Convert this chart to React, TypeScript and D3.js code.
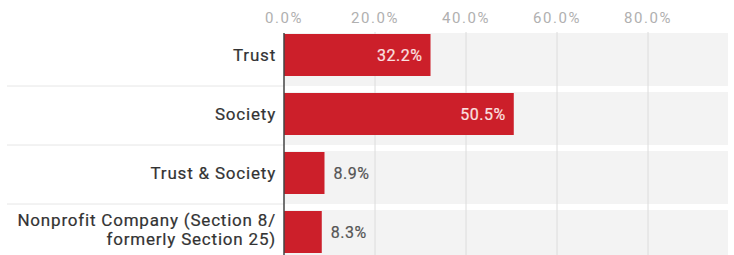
import React from 'react';
import * as d3 from 'd3';

const categories = ['Trust', 'Society', 'Trust & Society', 'Nonprofit Company (Section 8/\nformerly Section 25)'];
const values = [32.2, 50.5, 8.9, 8.3];
const ticks = [0, 20, 40, 60, 80];

const W = 734;
const H = 255;

const App = () => {
  const x = d3.scaleLinear().domain([0, 100]).range([284, 739]);
  const y = d3.scaleBand().domain(categories).range([30, 266]);
  const step = y.step();
  const plotRight = 728;
  const font = 'Roboto, sans-serif';

  return (
    <svg width={W} height={H} style={{ position: 'absolute', left: 0, top: 0, background: '#fff' }}>
      {/* row backgrounds */}
      {categories.map(c => (
        <rect key={'bg' + c} x={x(0)} y={(y(c) as number) + 3} width={plotRight - x(0)} height={step - 6} fill="#f3f3f3" />
      ))}
      {/* gridlines */}
      {ticks.slice(1).map(t => (
        <line key={'g' + t} x1={x(t)} x2={x(t)} y1={32} y2={H} stroke="#dcdcdc" strokeWidth={1} />
      ))}
      {/* row separators in the label area */}
      {categories.slice(1).map(c => (
        <line key={'s' + c} x1={7} x2={x(0)} y1={(y(c) as number) - 3} y2={(y(c) as number) - 3} stroke="#e6e6e6" strokeWidth={1} />
      ))}
      {/* tick labels */}
      {ticks.map(t => (
        <text key={'t' + t} x={x(t)} y={23} textAnchor="middle" fontFamily={font} fontSize={15} fontWeight={400} letterSpacing={1.6} fill="#b0b0b0">
          {t.toFixed(1) + '%'}
        </text>
      ))}
      {/* bars */}
      {categories.map((c, i) => (
        <rect key={'b' + c} x={x(0)} y={(y(c) as number) + 4} width={x(values[i]) - x(0)} height={step - 17} fill="#cc1f2a" />
      ))}
      {/* axis line */}
      <line x1={x(0)} x2={x(0)} y1={33} y2={H} stroke="#444" strokeWidth={1.5} />
      {/* category labels */}
      {categories.map(c => {
        const lines = c.split('\n');
        const cy = (y(c) as number) + 4 + (step - 17) / 2;
        const lh = 19;
        return (
          <text key={'l' + c} x={276} textAnchor="end" fontFamily={font} fontSize={17} fontWeight={400} letterSpacing={0.8} fill="#333" stroke="#333" strokeWidth={0.2}>
            {lines.map((ln, k) => (
              <tspan key={k} x={276} y={cy + 6 + (k - (lines.length - 1) / 2) * lh - (lines.length > 1 ? 3 : 0)}>{ln}</tspan>
            ))}
          </text>
        );
      })}
      {/* value labels */}
      {categories.map((c, i) => {
        const inside = values[i] > 20;
        const cy = (y(c) as number) + 4 + (step - 17) / 2;
        const col = inside ? '#fbe1e1' : '#555';
        return (
          <text
            key={'v' + c}
            x={inside ? x(values[i]) - 8 : x(values[i]) + 9}
            y={cy + 6}
            textAnchor={inside ? 'end' : 'start'}
            fontFamily={font}
            fontSize={16}
            fontWeight={400}
            letterSpacing={0.5}
            fill={col}
            stroke={col}
            strokeWidth={0.2}
          >
            {values[i].toFixed(1) + '%'}
          </text>
        );
      })}
    </svg>
  );
};

export default App;
